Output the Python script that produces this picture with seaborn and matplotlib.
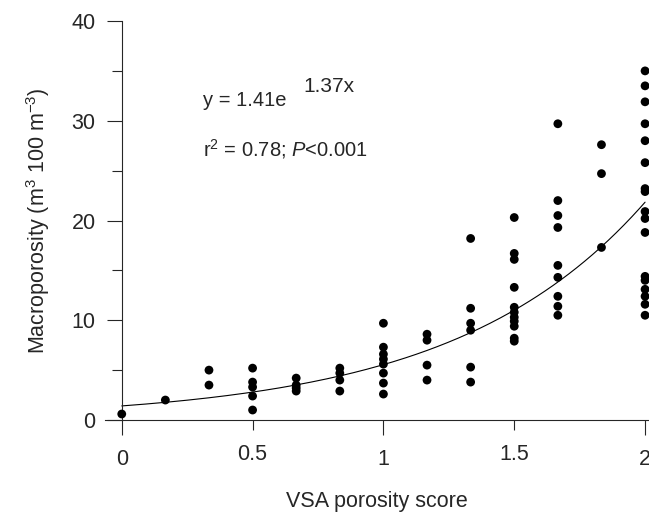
import matplotlib
matplotlib.use("Agg")
import matplotlib.pyplot as plt
import seaborn as sns
import numpy as np
import pandas as pd

# VSA porosity scores (x) and macroporosity readings (y)
score_levels = [0, 1/6, 1/3, 0.5, 2/3, 5/6, 1, 7/6, 4/3, 1.5, 5/3, 11/6, 2]
macro_0 = [0.6]
macro_1 = [2.0]
macro_2 = [5.0, 3.5]
macro_3 = [5.2, 3.8, 3.3, 2.4, 1.0]
macro_4 = [4.2, 3.5, 3.2, 2.9]
macro_5 = [5.2, 4.7, 4.0, 2.9]
macro_6 = [9.7, 7.3, 6.6, 6.1, 5.6, 4.7, 3.7, 2.6]
macro_7 = [8.6, 8.0, 5.5, 4.0]
macro_8 = [18.2, 11.2, 9.7, 9.0, 5.3, 3.8]
macro_9 = [20.3, 16.7, 16.1, 13.3, 11.3, 10.8, 10.3, 9.9, 9.4, 8.2, 7.9]
macro_10 = [29.7, 22.0, 20.5, 19.3, 15.5, 14.3, 12.4, 11.4, 10.5]
macro_11 = [27.6, 24.7, 17.3]
macro_12 = [35.0, 33.5, 31.9, 29.7, 28.0, 25.8, 23.2, 22.9, 20.9, 20.2, 18.8,
            14.4, 14.0, 13.1, 12.4, 11.6, 10.5]

# fitted curve y = a * exp(b * x)
fit_a = 1.41
fit_b = 1.37

groups = [macro_0, macro_1, macro_2, macro_3, macro_4, macro_5, macro_6,
          macro_7, macro_8, macro_9, macro_10, macro_11, macro_12]
rows = [(s, v) for s, vals in zip(score_levels, groups) for v in vals]
df = pd.DataFrame(rows, columns=["score", "macro"])

fit_x = np.linspace(0, 2, 200)
fit_df = pd.DataFrame({"score": fit_x, "macro": fit_a * np.exp(fit_b * fit_x)})

sns.set_style("ticks")
plt.rcParams["font.family"] = ["Liberation Sans", "DejaVu Sans"]
plt.rcParams["mathtext.fontset"] = "custom"
plt.rcParams["mathtext.rm"] = "Liberation Sans"
plt.rcParams["mathtext.it"] = "Liberation Sans:italic"

fig = plt.figure(figsize=(6.49, 5.14), dpi=100)
ax = fig.add_axes([0.1618, 0.1829, 0.8382, 0.7762])

sns.lineplot(data=fit_df, x="score", y="macro", ax=ax, color="black", lw=0.8)
sns.scatterplot(data=df, x="score", y="macro", ax=ax, color="black", s=40,
                edgecolor="none", clip_on=False, zorder=3)

ax.set_xlim(-0.064, 2.015)
ax.set_ylim(0, 40)

ax.spines["top"].set_visible(False)
ax.spines["right"].set_visible(False)
ax.spines["left"].set_position(("data", 0))
for sp in ["left", "bottom"]:
    ax.spines[sp].set_linewidth(0.8)

ax.set_xticks([0, 1, 2], labels=["0", "1", "2"])
ax.set_xticks([0.5, 1.5], labels=["0.5", "1.5"], minor=True)
ax.set_yticks([0, 10, 20, 30, 40])
ax.set_yticks([5, 15, 25, 35], minor=True)

ax.tick_params(axis="both", which="major", length=10.8, width=0.8, labelsize=15.5)
ax.tick_params(axis="both", which="minor", length=7.5, width=0.8, labelsize=15.5)
ax.tick_params(axis="x", which="both", pad=10)
ax.tick_params(axis="y", which="both", pad=8)

ax.set_xlabel("VSA porosity score", fontsize=15.5, labelpad=15)
ax.set_ylabel(r"Macroporosity (m$^3$ 100 m$^{-3}$)", fontsize=15.5, labelpad=14)

ax.text(0.311, 31.5, "y = 1.41e", fontsize=14.5)
ax.text(0.693, 32.9, "1.37x", fontsize=15)
ax.text(0.311, 26.4, r"r$^2$ = 0.78; $\mathit{P}$<0.001", fontsize=14.5)

fig.savefig("out.png", dpi=100)
